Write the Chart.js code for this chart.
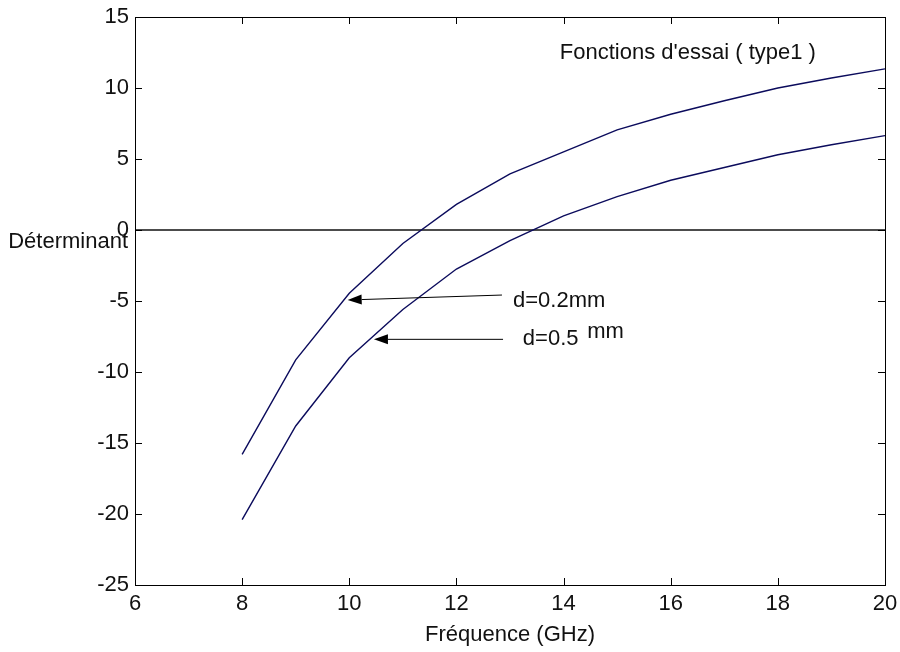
<!DOCTYPE html>
<html>
<head>
<meta charset="utf-8">
<script src="https://cdn.jsdelivr.net/npm/chart.js@4.4.0/dist/chart.umd.min.js"></script>
<style>
  html, body { margin: 0; padding: 0; background: #fff; }
  #wrap { width: 900px; height: 652px; position: relative; }
</style>
</head>
<body>
<div id="wrap"><canvas id="chart"></canvas></div>
<script>
// Data
const freq = [8, 9, 10, 11, 12, 13, 14, 15, 16, 17, 18, 19, 20];
const det02 = [-15.8, -9.15, -4.45, -0.95, 1.8, 3.95, 5.5, 7.05, 8.15, 9.1, 10.0, 10.7, 11.35];
const det05 = [-20.4, -13.8, -9.0, -5.6, -2.75, -0.75, 1.0, 2.35, 3.5, 4.4, 5.3, 6.0, 6.65];
const xTicks = [6, 8, 10, 12, 14, 16, 18, 20];
const yTicks = [-25, -20, -15, -10, -5, 0, 5, 10, 15];
const zeroLine = [{ x: 6, y: 0 }, { x: 20, y: 0 }];

const FONT = "'Liberation Sans', Arial, sans-serif";
const lineColor = "#0b0b5c";

const toXY = (xs, ys) => xs.map((x, i) => ({ x: x, y: ys[i] }));

// Frame, inner ticks, labels and arrows (MATLAB look)
const decorPlugin = {
  id: "decor",
  afterDraw(chart) {
    const ctx = chart.ctx;
    const area = chart.chartArea;
    const xs = chart.scales.x;
    const ys = chart.scales.y;
    ctx.save();

    // box
    ctx.strokeStyle = "#000";
    ctx.lineWidth = 1;
    ctx.strokeRect(Math.round(area.left) + 0.5, Math.round(area.top) + 0.5,
      Math.round(area.right - area.left), Math.round(area.bottom - area.top));

    // inner ticks
    const tl = 7;
    ctx.beginPath();
    xTicks.forEach((v) => {
      const px = Math.round(xs.getPixelForValue(v)) + 0.5;
      ctx.moveTo(px, area.bottom); ctx.lineTo(px, area.bottom - tl);
      ctx.moveTo(px, area.top); ctx.lineTo(px, area.top + tl);
    });
    yTicks.forEach((v) => {
      const py = Math.round(ys.getPixelForValue(v)) + 0.5;
      ctx.moveTo(area.left, py); ctx.lineTo(area.left + tl, py);
      ctx.moveTo(area.right, py); ctx.lineTo(area.right - tl, py);
    });
    ctx.stroke();

    // y label, horizontal
    ctx.fillStyle = "#111";
    ctx.font = "22px " + FONT;
    ctx.textAlign = "right";
    ctx.textBaseline = "alphabetic";
    ctx.fillText("Déterminant", area.left - 7, ys.getPixelForValue(-1.25));

    // annotations
    ctx.textAlign = "left";
    ctx.fillText("Fonctions d'essai ( type1 )", xs.getPixelForValue(13.93), ys.getPixelForValue(12.05));
    ctx.fillText("d=0.2mm", xs.getPixelForValue(13.056), ys.getPixelForValue(-5.42));
    ctx.fillText("d=0.5", xs.getPixelForValue(13.24), ys.getPixelForValue(-8.1));
    ctx.fillText("mm", xs.getPixelForValue(14.44), ys.getPixelForValue(-7.6));

    function arrow(x1, y1, x2, y2) {
      const ax = xs.getPixelForValue(x1), ay = ys.getPixelForValue(y1);
      const bx = xs.getPixelForValue(x2), by = ys.getPixelForValue(y2);
      const ang = Math.atan2(by - ay, bx - ax);
      const hl = 14, hw = 5;
      ctx.strokeStyle = "#000";
      ctx.lineWidth = 1;
      ctx.beginPath();
      ctx.moveTo(ax, ay);
      ctx.lineTo(bx - hl * Math.cos(ang), by - hl * Math.sin(ang));
      ctx.stroke();
      ctx.fillStyle = "#000";
      ctx.beginPath();
      ctx.moveTo(bx, by);
      ctx.lineTo(bx - hl * Math.cos(ang) + hw * Math.sin(ang), by - hl * Math.sin(ang) - hw * Math.cos(ang));
      ctx.lineTo(bx - hl * Math.cos(ang) - hw * Math.sin(ang), by - hl * Math.sin(ang) + hw * Math.cos(ang));
      ctx.closePath();
      ctx.fill();
    }
    arrow(12.85, -4.58, 9.97, -4.93);
    arrow(12.87, -7.7, 10.46, -7.7);

    ctx.restore();
  },
};

const ctx = document.getElementById("chart").getContext("2d");
new Chart(ctx, {
  type: "line",
  data: {
    datasets: [
      {
        label: "d=0.2mm",
        data: toXY(freq, det02),
        borderColor: lineColor,
        borderWidth: 1.4,
        pointRadius: 0,
        tension: 0,
      },
      {
        label: "d=0.5mm",
        data: toXY(freq, det05),
        borderColor: lineColor,
        borderWidth: 1.4,
        pointRadius: 0,
        tension: 0,
      },
      {
        label: "zero",
        data: zeroLine,
        borderColor: "#111",
        borderWidth: 1.4,
        pointRadius: 0,
      },
    ],
  },
  options: {
    responsive: true,
    maintainAspectRatio: false,
    animation: false,
    layout: { padding: { left: 0, right: 15, top: 17, bottom: 0 } },
    plugins: { legend: { display: false }, tooltip: { enabled: false } },
    scales: {
      x: {
        type: "linear",
        min: 6,
        max: 20,
        afterBuildTicks: (s) => { s.ticks = xTicks.map((v) => ({ value: v })); },
        afterFit: (s) => {
          s.height = 67;
          s.paddingLeft = 0;
          s.paddingRight = 0;
        },
        grid: { display: false, drawTicks: false },
        border: { display: false },
        ticks: { color: "#111", font: { family: FONT, size: 22 }, padding: 6, maxRotation: 0 },
        title: { display: true, text: "Fréquence (GHz)", color: "#111", font: { family: FONT, size: 22 }, padding: { top: 0 } },
      },
      y: {
        type: "linear",
        min: -25,
        max: 15,
        afterBuildTicks: (s) => { s.ticks = yTicks.map((v) => ({ value: v })); },
        afterFit: (s) => {
          s.width = 135;
          s.paddingTop = 0;
          s.paddingBottom = 0;
        },
        grid: { display: false, drawTicks: false },
        border: { display: false },
        ticks: { color: "#111", font: { family: FONT, size: 22 }, padding: 6 },
      },
    },
  },
  plugins: [decorPlugin],
});
</script>
</body>
</html>
